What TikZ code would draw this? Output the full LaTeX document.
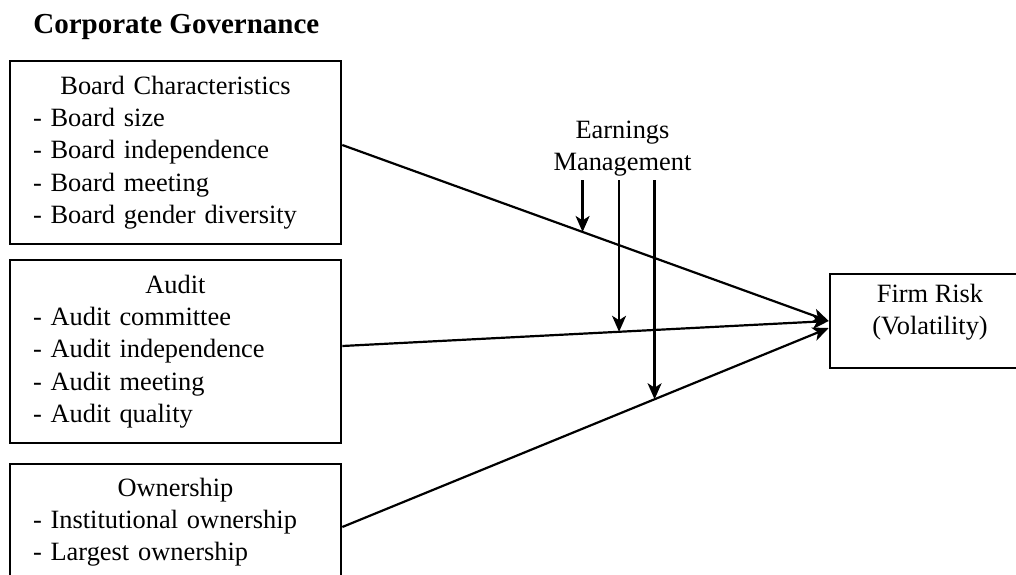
\documentclass[tikz,border=0pt]{standalone}
\usepackage{fontspec}
\setmainfont{Liberation Serif}
\usepackage{tikz}
\usetikzlibrary{positioning}
\usetikzlibrary{calc}
\usetikzlibrary{arrows.meta}

\begin{document}
\begin{tikzpicture}[x=0.5pt, y=-0.5pt,
    every node/.style={font=\fontsize{13.2}{16.1}\selectfont},
    group/.style={draw, line width=1.3pt, text width=142.5pt, inner xsep=11.5pt,
        align=left, minimum width=165.5pt},
    arr/.style={line width=1.1pt, -{Stealth[length=8pt, width=7pt, inset=2.2pt]}}]

    \useasboundingbox (0,0) rectangle (1016,574);
    \clip (0,0) rectangle (1016,574);

    \node[anchor=base west, inner sep=0, font=\fontsize{14.5}{17}\selectfont\bfseries] (title) at (33,33) {Corporate Governance};

    % the three groups of governance variables
    \node[group, minimum height=91.5pt] (board) at (175.5,152.5) {\hfil Board Characteristics\\
        - Board size\\ - Board independence\\ - Board meeting\\ - Board gender diversity};
    \node[group, minimum height=91.5pt] (audit) at (175.5,351.5) {\hfil Audit\\
        - Audit committee\\ - Audit independence\\ - Audit meeting\\ - Audit quality};
    \node[group, minimum height=58pt] (own) at (175.5,522) {\hfil Ownership\\
        - Institutional ownership\\ - Largest ownership};

    \node[draw, line width=1.3pt, align=center, minimum width=100pt, minimum height=47pt,
        text depth=12pt] (risk) at (930,321) {Firm Risk\\(Volatility)};

    \node[anchor=south, inner sep=0, align=center] (em) at (622.5,177) {Earnings\\Management};

    % direct effects
    \draw[arr] ([yshift=3.75pt]board.east) -- coordinate[pos=0.494] (m1) (risk.west);
    \draw[arr] ([yshift=2.75pt]audit.east) -- coordinate[pos=0.569] (m2) (risk.west);
    \draw[arr] ([yshift=-2.5pt]own.east) -- coordinate[pos=0.642] (m3) ([yshift=-3.5pt]risk.west);

    % moderating arrows
    \draw[arr, shorten <=1.5pt] (m1 |- em.south) -- (m1);
    \draw[arr, shorten <=1.5pt] (m2 |- em.south) -- (m2);
    \draw[arr, shorten <=1.5pt] (m3 |- em.south) -- (m3);
\end{tikzpicture}
\end{document}
